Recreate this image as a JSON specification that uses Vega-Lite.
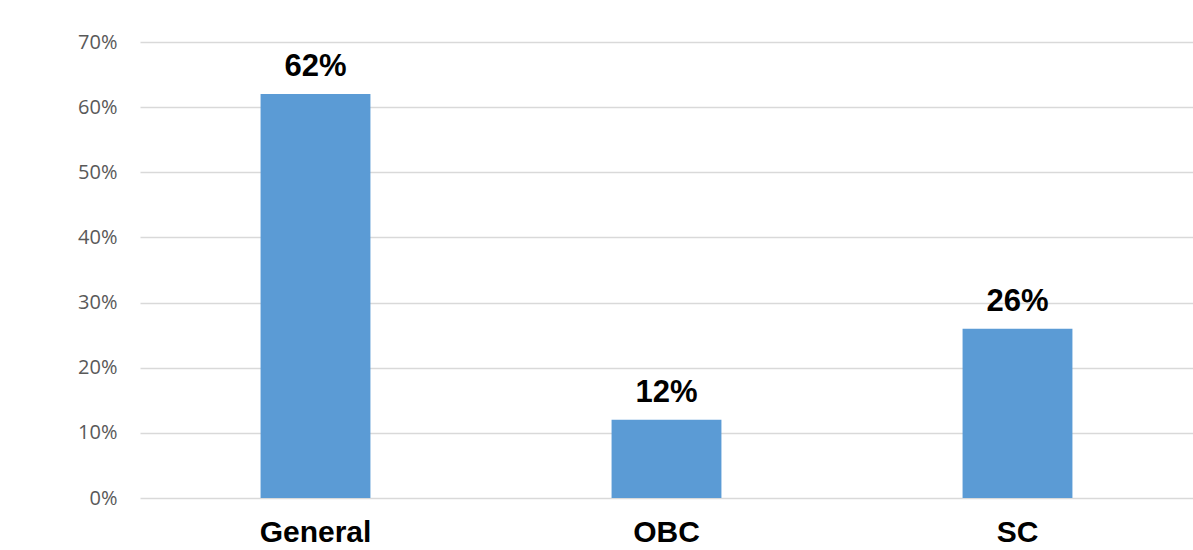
{
  "$schema": "https://vega.github.io/schema/vega-lite/v6.json",
  "autosize": "none",
  "width": 1053,
  "height": 456,
  "padding": {"left": 140, "top": 42, "right": 0, "bottom": 52},
  "background": "white",
  "config": {"view": {"stroke": null}},
  "data": {"values": [
    {"category": "General", "share": 0.62},
    {"category": "OBC", "share": 0.12},
    {"category": "SC", "share": 0.26}
  ]},
  "encoding": {
    "x": {"field": "category", "type": "nominal", "sort": null,
      "scale": {"paddingInner": 0.687, "paddingOuter": 0.3435},
      "axis": {"title": null, "labelAngle": 0, "domain": false, "ticks": false, "labelPadding": 19,
        "labelFont": "Liberation Sans", "labelFontSize": 30, "labelFontWeight": "bold", "labelColor": "#000000"}},
    "y": {"field": "share", "type": "quantitative",
      "scale": {"domain": [0, 0.7], "nice": false},
      "axis": {"title": null, "format": ".0%", "values": [0, 0.1, 0.2, 0.3, 0.4, 0.5, 0.6, 0.7],
        "domain": false, "ticks": false, "labelPadding": 23, "labelFont": "Open Sans", "labelFontSize": 20,
        "labelColor": "#595959", "gridColor": "#D9D9D9", "gridWidth": 1.5}}
  },
  "layer": [
    {"mark": {"type": "bar", "color": "#5B9BD5"}},
    {"mark": {"type": "text", "font": "Liberation Sans", "fontSize": 31, "fontWeight": "bold", "color": "#000000", "baseline": "alphabetic", "dy": -18},
     "encoding": {"text": {"field": "share", "type": "quantitative", "format": ".0%"}}}
  ]
}
